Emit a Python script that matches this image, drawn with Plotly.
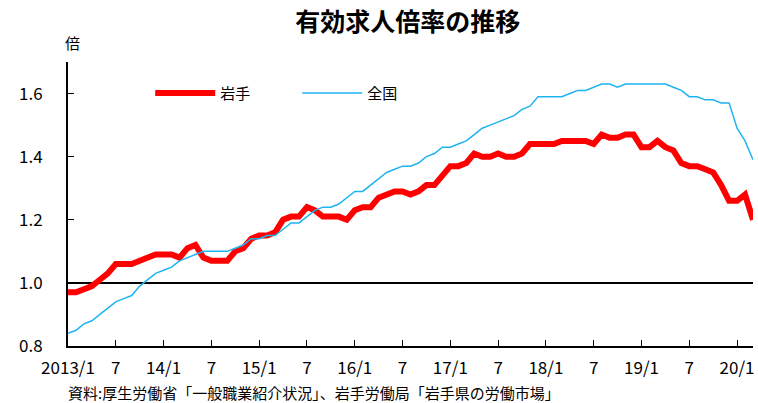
""" 有効求人倍率の推移 (岩手 vs 全国), monthly 2013/1 - 2020/3 """
import plotly.graph_objects as go

# month labels 2013/1 .. 2020/3
months = [f"{y}/{m}" for y in range(2013, 2021) for m in range(1, 13)][:87]

iwate = [
    0.97, 0.97, 0.98, 0.99, 1.01, 1.03, 1.06, 1.06, 1.06, 1.07, 1.08, 1.09,
    1.09, 1.09, 1.08, 1.11, 1.12, 1.08, 1.07, 1.07, 1.07, 1.10, 1.11, 1.14,
    1.15, 1.15, 1.16, 1.20, 1.21, 1.21, 1.24, 1.23, 1.21, 1.21, 1.21, 1.20,
    1.23, 1.24, 1.24, 1.27, 1.28, 1.29, 1.29, 1.28, 1.29, 1.31, 1.31, 1.34,
    1.37, 1.37, 1.38, 1.41, 1.40, 1.40, 1.41, 1.40, 1.40, 1.41, 1.44, 1.44,
    1.44, 1.44, 1.45, 1.45, 1.45, 1.45, 1.44, 1.47, 1.46, 1.46, 1.47, 1.47,
    1.43, 1.43, 1.45, 1.43, 1.42, 1.38, 1.37, 1.37, 1.36, 1.35, 1.31, 1.26,
    1.26, 1.28, 1.20,
]
zenkoku = [
    0.84, 0.85, 0.87, 0.88, 0.90, 0.92, 0.94, 0.95, 0.96, 0.99, 1.01, 1.03,
    1.04, 1.05, 1.07, 1.08, 1.09, 1.10, 1.10, 1.10, 1.10, 1.11, 1.12, 1.14,
    1.14, 1.15, 1.15, 1.17, 1.19, 1.19, 1.21, 1.23, 1.24, 1.24, 1.25, 1.27,
    1.29, 1.29, 1.31, 1.33, 1.35, 1.36, 1.37, 1.37, 1.38, 1.40, 1.41, 1.43,
    1.43, 1.44, 1.45, 1.47, 1.49, 1.50, 1.51, 1.52, 1.53, 1.55, 1.56, 1.59,
    1.59, 1.59, 1.59, 1.60, 1.61, 1.61, 1.62, 1.63, 1.63, 1.62, 1.63, 1.63,
    1.63, 1.63, 1.63, 1.63, 1.62, 1.61, 1.59, 1.59, 1.58, 1.58, 1.57, 1.57,
    1.49, 1.45, 1.39,
]

tick_vals = months[::6]
tick_text = ["2013/1", "7", "14/1", "7", "15/1", "7", "16/1", "7",
             "17/1", "7", "18/1", "7", "19/1", "7", "20/1"]

FONT = "Noto Sans CJK JP"

fig = go.Figure()
fig.add_trace(go.Scatter(
    x = months, y = iwate, name = "岩手", mode = "lines",
    line = dict(color = "#FF0000", width = 6),
))
fig.add_trace(go.Scatter(
    x = months, y = zenkoku, name = "全国", mode = "lines",
    line = dict(color = "#1EB4F0", width = 1.5),
))
fig.add_hline(y = 1.0, line = dict(color = "black", width = 2), layer = "below")

fig.update_layout(
    width = 758,
    height = 403,
    plot_bgcolor = "white",
    paper_bgcolor = "white",
    font = dict(family = FONT, size = 16, color = "black"),
    margin = dict(l = 68, r = 3, t = 62, b = 57),
    title = dict(
        text = "<b>有効求人倍率の推移</b>",
        font = dict(size = 25, family = FONT),
        x = 0.538, xanchor = "center", y = 0.945, yanchor = "middle",
    ),
    legend = dict(
        orientation = "h",
        x = 0.12, y = 0.89, yanchor = "middle", xanchor = "left",
        bgcolor = "rgba(0,0,0,0)",
        font = dict(size = 15),
        itemwidth = 60,
        entrywidth = 72, entrywidthmode = "pixels",
    ),
    xaxis = dict(
        type = "category",
        range = [0, 86],
        tickvals = tick_vals,
        ticktext = tick_text,
        ticks = "inside", ticklen = 6, tickwidth = 1, tickcolor = "black",
        showline = True, linecolor = "black", linewidth = 2,
        showgrid = False, zeroline = False,
        tickfont = dict(size = 17),
        ticklabelstandoff = 6,
    ),
    yaxis = dict(
        range = [0.8, 1.7],
        tickvals = [0.8, 1.0, 1.2, 1.4, 1.6],
        tickformat = ".1f",
        ticks = "inside", ticklen = 6, tickwidth = 1, tickcolor = "black",
        showline = True, linecolor = "black", linewidth = 2,
        showgrid = False, zeroline = False,
        tickfont = dict(size = 17),
        ticklabelstandoff = 20,
    ),
    annotations = [
        dict(text = "倍", xref = "paper", yref = "paper", x = 0.006, y = 1.067,
             xanchor = "center", yanchor = "middle", showarrow = False,
             font = dict(size = 15)),
        dict(text = "資料:厚生労働省「一般職業紹介状況」、岩手労働局「岩手県の労働市場」",
             xref = "paper", yref = "paper", x = -0.003, y = -0.162,
             xanchor = "left", yanchor = "middle", showarrow = False,
             font = dict(size = 15)),
    ],
)

fig.write_html(
    "out.html",
    config = {"displayModeBar": False},
    post_script = "document.body.style.margin = '0';",
)
